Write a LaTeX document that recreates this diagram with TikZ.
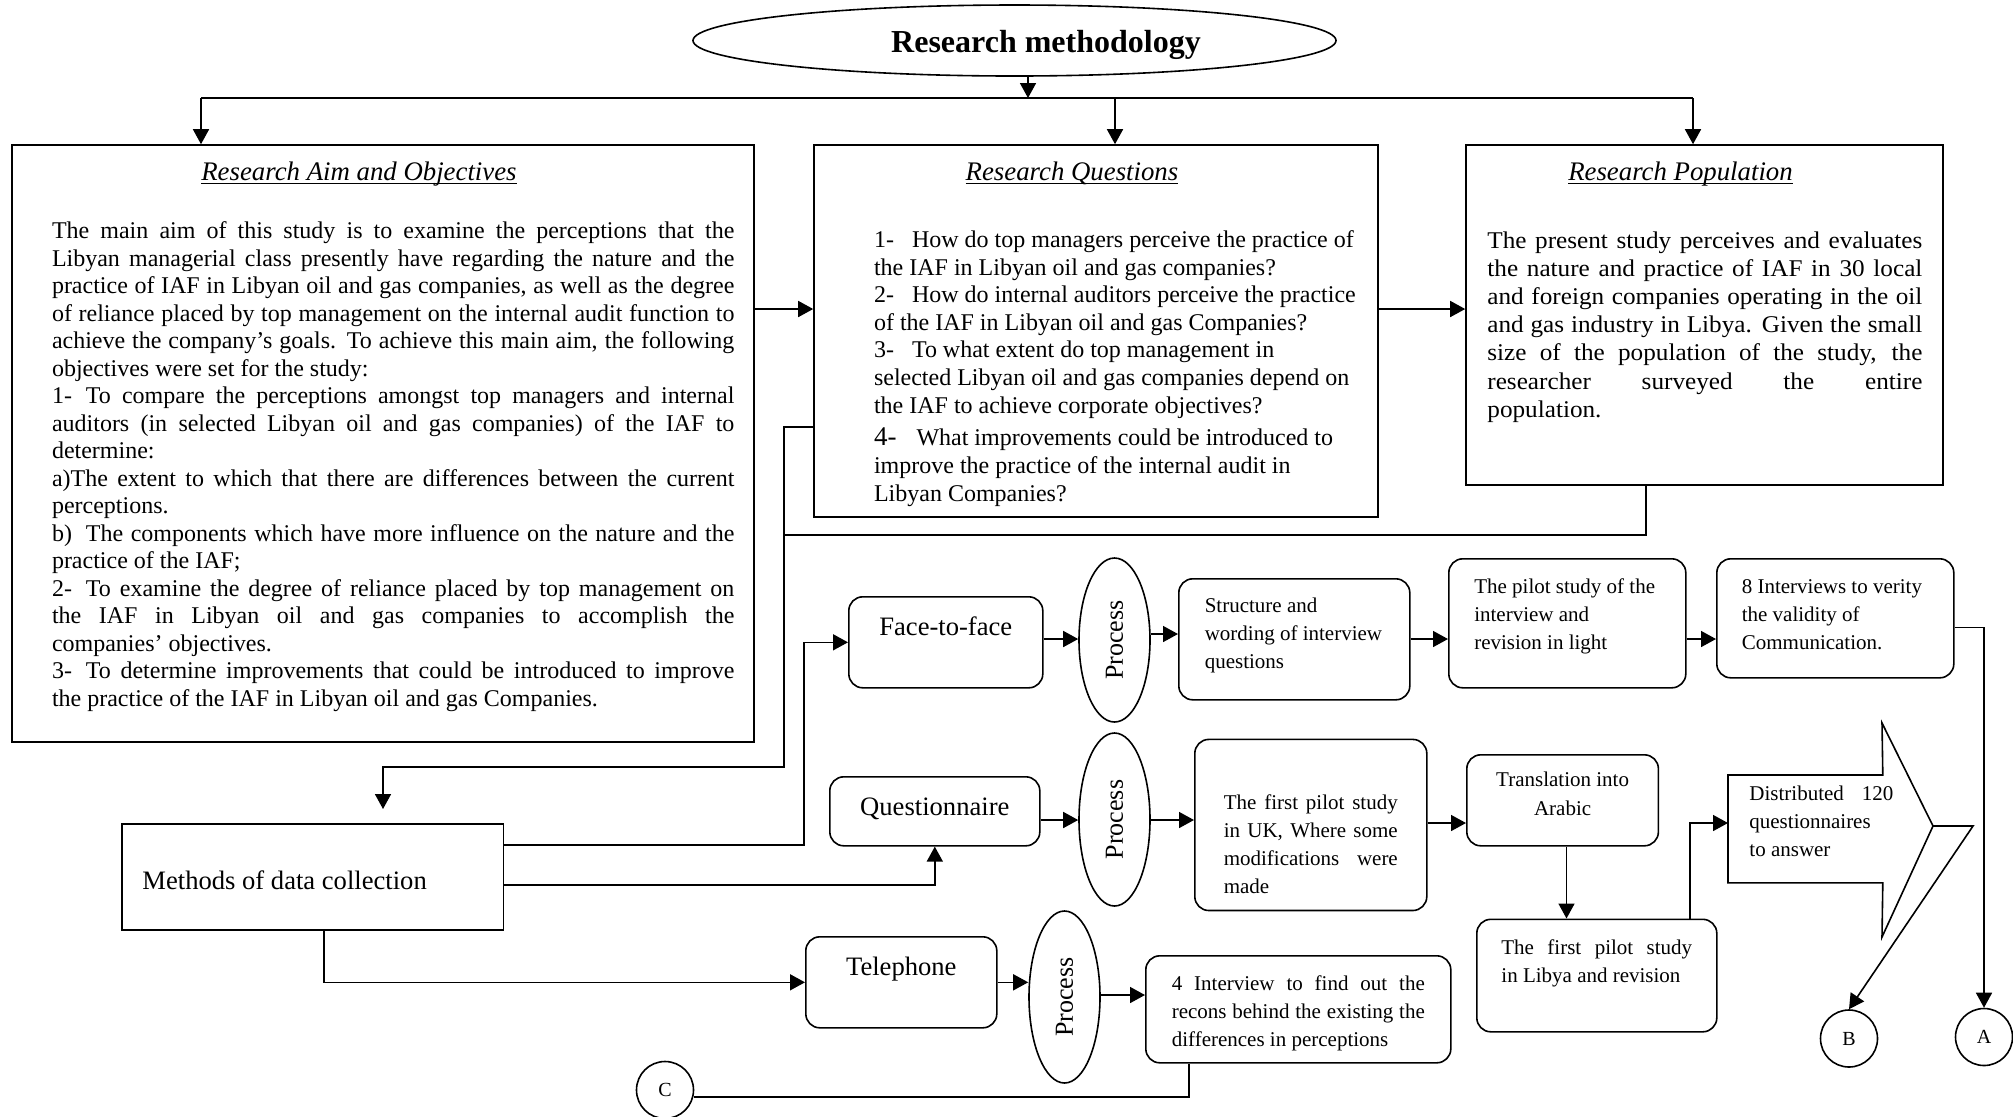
\documentclass[tikz,border=0pt]{standalone}
\usepackage{fontspec}
\usepackage{graphicx}
\setmainfont{Liberation Serif}
\newfontfamily\popfont{Liberation Serif}[FakeStretch=1.05]
\usetikzlibrary{arrows.meta,shapes.geometric}
\tolerance=10000
\hbadness=10000
\newsavebox\undlbox
\newcommand\undl[1]{\sbox\undlbox{#1}\rlap{\rule[-2pt]{\wd\undlbox}{0.65pt}}\usebox\undlbox}
\tikzset{
  line/.style={line width=0.8pt},
  arr/.style={line width=0.8pt,-{Triangle[length=7.5pt,width=8pt]}},
  sqbox/.style={draw,line width=0.8pt,rectangle,inner sep=0pt},
  rbox/.style={sqbox,rounded corners=7pt},
  proc/.style={draw,line width=0.8pt,ellipse,inner sep=0pt,minimum width=35.5pt,font=\fontsize{13}{13}\selectfont},
  conn/.style={draw,line width=0.8pt,circle,inner sep=0pt,minimum size=28.5pt,font=\fontsize{10}{10}\selectfont},
  body/.style={inner sep=0pt,anchor=base west,font=\fontsize{12}{13.75}\selectfont},
  ttl/.style={inner sep=0pt,anchor=base,font=\fontsize{13.4}{15}\selectfont\itshape},
  small/.style={font=\fontsize{10.5}{14}\selectfont},
  big/.style={font=\fontsize{13.3}{16}\selectfont},
}
\begin{document}
\begin{tikzpicture}[x=0.5pt,y=-0.5pt]
\path[use as bounding box,fill=white] (0,0) rectangle (2013,1116);

% ---------- heading ----------
\node[draw,line width=0.8pt,ellipse,inner sep=0pt,minimum width=321.5pt,minimum height=35.5pt,
      text height=14pt,text depth=2.5pt,
      font=\fontsize{16}{19}\selectfont\bfseries] (top) at (1014.5,40.5) {\hspace*{31.5pt}Research methodology};

% ---------- three main boxes ----------
\node[sqbox,minimum width=371pt,minimum height=298.5pt] (aim) at (383,443.5) {};
\node[sqbox,minimum width=282pt,minimum height=186pt] (ques) at (1096,331) {};
\node[sqbox,minimum width=238.5pt,minimum height=170pt] (pop) at (1704.5,315) {};

\node[ttl] (aimT) at (359,180) {\undl{Research Aim and Objectives}};
\node[ttl] (quesT) at (1072,180) {\undl{Research Questions}};
\node[ttl] (popT) at (1680.5,180) {\undl{Research Population}};

\node[body] (aimB) at (51.6,238.5) {\parbox[t]{341.2pt}{%
The main aim of this study is to examine the perceptions that the\linebreak
Libyan managerial class presently have regarding the nature and the\linebreak
practice of IAF in Libyan oil and gas companies, as well as the degree\linebreak
of reliance placed by top management on the internal audit function to\linebreak
achieve the company’s goals. To achieve this main aim, the following\linebreak
objectives were set for the study:\par
1-\hspace{7pt}To compare the perceptions amongst top managers and internal\linebreak
auditors (in selected Libyan oil and gas companies) of the IAF to\linebreak
determine:\par
a)The extent to which that there are differences between the current\linebreak
perceptions.\par
b)\hspace{7pt}The components which have more influence on the nature and the\linebreak
practice of the IAF;\par
2-\hspace{7pt}To examine the degree of reliance placed by top management on\linebreak
the IAF in Libyan oil and gas companies to accomplish the\linebreak
companies’ objectives.\par
3-\hspace{7pt}To determine improvements that could be introduced to improve\linebreak
the practice of the IAF in Libyan oil and gas Companies.}};

\node[body,font=\fontsize{12}{13.8}\selectfont] (quesB) at (873.6,247.5) {\parbox[t]{250pt}{\raggedright
1-\hspace{9pt}How do top managers perceive the practice of\\
the IAF in Libyan oil and gas companies?\\
2-\hspace{9pt}How do internal auditors perceive the practice\\
of the IAF in Libyan oil and gas Companies?\\
3-\hspace{9pt}To what extent do top management in\\
selected Libyan oil and gas companies depend on\\
the IAF to achieve corporate objectives?\\[2.6pt]
{\fontsize{13.5}{13.8}\selectfont 4-}\hspace{10pt}What improvements could be introduced to\\
improve the practice of the internal audit in\\
Libyan Companies?}};

\node[body] (popB) at (1487,248.5) {\parbox[t]{217.5pt}{\popfont\fontsize{12}{14.06}\selectfont
The present study perceives and evaluates\linebreak
the nature and practice of IAF in 30 local\linebreak
and foreign companies operating in the oil\linebreak
and gas industry in Libya. Given the small\linebreak
size of the population of the study, the\linebreak
researcher surveyed the entire\linebreak
population.}};

% ---------- data collection ----------
\node[sqbox,big,anchor=north west,minimum width=190.75pt,text height=33pt,text depth=20pt] (meth) at (121,823)
  {\parbox[t]{170.15pt}{\raggedright Methods of data collection}};

\node[rbox,big,anchor=north west,minimum width=97pt,text height=19.5pt,text depth=26pt] (face) at (848,596) {Face-to-face};
\node[rbox,big,anchor=north west,minimum width=105pt,text height=19.5pt,text depth=15pt] (quest) at (829,776) {Questionnaire};
\node[rbox,big,anchor=north west,minimum width=95.5pt,text height=19.5pt,text depth=26pt] (tel) at (805,936) {Telephone};

\node[proc,minimum height=82pt] (P1) at (1114.5,640) {\rotatebox{90}{Process}};
\node[proc,minimum height=86.5pt] (P2) at (1114.5,819.5) {\rotatebox{90}{Process}};
\node[proc,minimum height=86pt] (P3) at (1064.5,997) {\rotatebox{90}{Process}};

% interview row
\node[rbox,small,anchor=north west,minimum width=115.5pt,text height=17pt,text depth=43.5pt] (struct) at (1178,578)
  {\parbox[t]{89.5pt}{\raggedright Structure and\\wording of interview\\questions}};
\node[rbox,small,anchor=north west,minimum width=118.5pt,text height=17.5pt,text depth=47pt] (pilot) at (1448,558)
  {\parbox[t]{93pt}{\raggedright The pilot study of the\\interview and\\revision in light}};
\node[rbox,small,anchor=north west,minimum width=118.5pt,text height=17.5pt,text depth=42pt] (eight) at (1716,558)
  {\parbox[t]{93.5pt}{\raggedright 8 Interviews to verity\\the validity of\\Communication.}};

% questionnaire row
\node[rbox,small,anchor=north west,minimum width=116pt,text height=35.2pt,text depth=50.35pt] (uk) at (1194,738.6)
  {\parbox[t]{87pt}{The first pilot study\linebreak in UK, Where some\linebreak modifications were\linebreak made}};
\node[rbox,small,anchor=north west,minimum width=95.8pt,text height=16pt,text depth=29.5pt] (trans) at (1466,754)
  {\parbox[t]{95.8pt}{\centering\fontsize{10.5}{14.5}\selectfont Translation into\\Arabic\par}};
\node[rbox,small,anchor=north west,minimum width=120pt,text height=17.5pt,text depth=38.75pt] (libya) at (1476,918.5)
  {\parbox[t]{95.4pt}{The first pilot study\linebreak in Libya and revision}};

\node[inner sep=0pt,minimum width=77pt,minimum height=53.5pt,anchor=north west] (dist) at (1728,775) {};
\draw[line] (dist.north west) -- (dist.north east) -- (1882,723) -- (1933,826) -- (1882,937)
  -- (dist.south east) -- (dist.south west) -- cycle;
\node[inner sep=0pt,anchor=base west,small] (distT) at (1749,800)
  {\parbox[t]{72pt}{Distributed 120\linebreak questionnaires\linebreak to answer}};
\coordinate (tip) at (1933,826);

% telephone row
\node[rbox,small,anchor=north west,minimum width=152.5pt,text height=17.3pt,text depth=36.2pt] (intv) at (1145,955)
  {\parbox[t]{126.5pt}{4 Interview to find out the\linebreak recons behind the existing the\linebreak differences in perceptions}};

% connectors to the next page
\node[conn] (A) at (1984,1037) {A};
\node[conn] (B) at (1849,1038.5) {B};
\node[conn] (C) at (665,1090) {C};

% ---------- connectors ----------
\coordinate (hubL) at (201,98);
\coordinate (hubM) at (1115,98);
\coordinate (hubR) at (1693,98);
\coordinate (hubT) at (1028,98);
\draw[line] (hubL) -- (hubR);
\draw[arr] (top.south -| hubT) -- (hubT);
\draw[arr] (hubL) -- (hubL |- aim.north);
\draw[arr] (hubM) -- (hubM |- ques.north);
\draw[arr] (hubR) -- (hubR |- pop.north);

\coordinate (yA) at (0,309);
\draw[arr] (aim.east |- yA) -- (ques.west |- yA);
\draw[arr] (ques.east |- yA) -- (pop.west |- yA);

\coordinate (qa) at (784,426.7);
\coordinate (qb) at (784,767);
\coordinate (qc) at (383,767);
\draw[arr,shorten >=7pt] (ques.west |- qa) -- (qa) -- (qb) -- (qc) -- (qc |- meth.north);
\coordinate (pa) at (1646,535);
\draw[line] (pa |- pop.south) -- (pa) -- (pa -| qa);

\coordinate (ma) at (804,845);
\draw[arr] (meth.east |- ma) -- (ma) |- (face.west);
\coordinate (mb) at (0,885);
\draw[arr] (meth.east |- mb) -| (quest.south);
\coordinate (mc) at (324,0);
\draw[arr] (meth.south -| mc) |- (tel.west);

\coordinate (r1) at (0,639);
\coordinate (r1b) at (0,634);
\draw[arr] (face.east |- r1) -- (P1.west |- r1);
\draw[arr] (P1.east |- r1b) -- (struct.west |- r1b);
\draw[arr] (struct.east |- r1) -- (pilot.west |- r1);
\draw[arr] (pilot.east |- r1) -- (eight.west |- r1);
\coordinate (aa) at (0,627.6);
\draw[arr] (eight.east |- aa) -| (A.north);

\coordinate (r2) at (0,820);
\coordinate (r2b) at (0,823);
\draw[arr] (quest.east |- r2) -- (P2.west |- r2);
\draw[arr] (P2.east |- r2) -- (uk.west |- r2);
\draw[arr] (uk.east |- r2b) -- (trans.west |- r2b);
\coordinate (tl) at (1566.5,0);
\draw[arr] (trans.south -| tl) -- (libya.north -| tl);
\coordinate (lb) at (1690,823);
\draw[arr] (libya.north -| lb) -- (lb) -- (lb -| dist.west);
\coordinate (bk) at (1973,826);
\draw[arr] (tip) -- (bk) -- (B.north);

\draw[arr] (tel.east) -- (tel.east -| P3.west);
\coordinate (r3) at (0,995);
\draw[arr] (P3.east |- r3) -- (intv.west |- r3);
\coordinate (cc) at (1189,1097);
\draw[line] (intv.south -| cc) -- (cc) -- (cc -| C.east);
\end{tikzpicture}
\end{document}
